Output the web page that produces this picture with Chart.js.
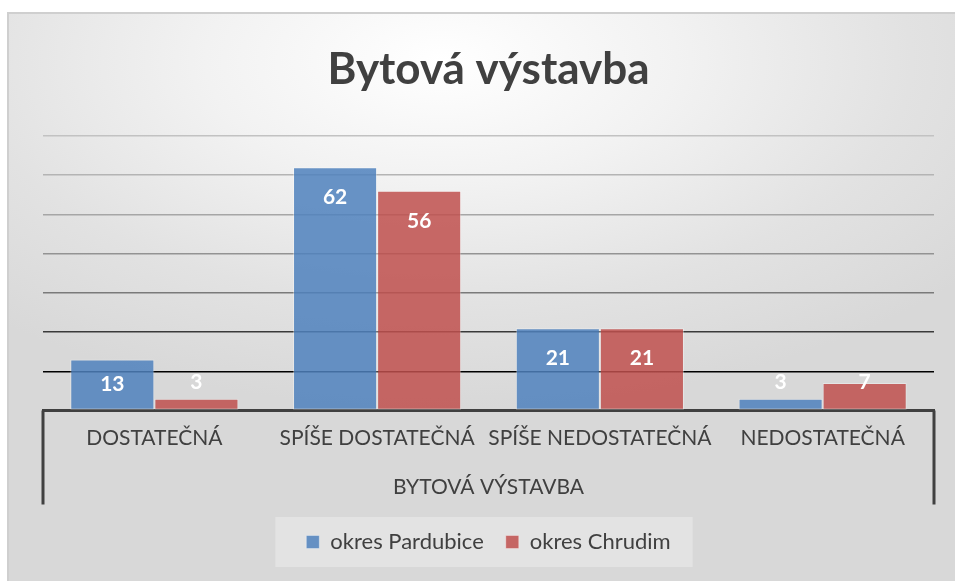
<!DOCTYPE html>
<html>
<head>
<meta charset="utf-8">
<script src="https://cdn.jsdelivr.net/npm/chart.js@4.4.0/dist/chart.umd.min.js"></script>
<style>
    html, body { margin: 0; padding: 0; background: #ffffff; overflow: hidden; }
    .frame {
        position: absolute;
        left: 7px;
        top: 12px;
        width: 960px;
        height: 580px;
        border-left: 2px solid #cfcfcf;
        border-top: 2px solid #cfcfcf;
        background: radial-gradient(ellipse 70% 60% at 45% 8%, #ffffff 0%, #f2f2f2 35%, #e2e2e2 70%, #d8d8d8 100%);
    }
    #chart { position: absolute; left: 0; top: 0; }
</style>
</head>
<body>
<div class="frame"></div>
<canvas id="chart" width="955" height="581"></canvas>
<script>
const categories = ["DOSTATEČNÁ", "SPÍŠE DOSTATEČNÁ", "SPÍŠE NEDOSTATEČNÁ", "NEDOSTATEČNÁ"];
const pardubice = [13, 62, 21, 3];
const chrudim = [3, 56, 21, 7];
const seriesNames = ["okres Pardubice", "okres Chrudim"];
const groupLabel = "BYTOVÁ VÝSTAVBA";
const titleText = "Bytová výstavba";

// gridline shades from 10 up to 70 (darker near the bottom)
const gridShades = ["#000000", "#3a3a3a", "#7a7a7a", "#939393", "#a6a6a6", "#b4b4b4", "#c2c2c2"];

// white value labels on the bars
const valueLabels = {
    id: "valueLabels",
    afterDatasetsDraw(chart) {
        const ctx = chart.ctx;
        ctx.save();
        ctx.font = "bold 21px Lato";
        ctx.fillStyle = "#ffffff";
        ctx.textAlign = "center";
        ctx.textBaseline = "middle";
        chart.data.datasets.forEach((ds, i) => {
            chart.getDatasetMeta(i).data.forEach((bar, j) => {
                const h = bar.base - bar.y;
                let y;
                if (h < 40) {
                    y = bar.base - 28;
                } else {
                    y = Math.min(bar.y + 30, (bar.y + bar.base) / 2);
                }
                ctx.fillText(ds.data[j], bar.x, y);
            });
        });
        ctx.restore();
    }
};

// outer vertical lines of the category axis + legend panel
const decorations = {
    id: "decorations",
    beforeDraw(chart) {
        const legend = chart.legend;
        if (!legend || !legend.legendHitBoxes.length) return;
        const boxes = legend.legendHitBoxes;
        const left = Math.min(...boxes.map(b => b.left)) - 31;
        const right = Math.max(...boxes.map(b => b.left + b.width)) + 22;
        const mid = boxes[0].top + boxes[0].height / 2;
        const ctx = chart.ctx;
        ctx.save();
        ctx.fillStyle = "rgba(255,255,255,0.28)";
        ctx.fillRect(left, mid - 25, right - left, 50);
        ctx.restore();
    },
    afterDraw(chart) {
        const area = chart.chartArea;
        const ctx = chart.ctx;
        ctx.save();
        ctx.strokeStyle = "#404040";
        ctx.lineWidth = 3;
        ctx.beginPath();
        ctx.moveTo(area.left, area.bottom);
        ctx.lineTo(area.left, area.bottom + 94);
        ctx.moveTo(area.right, area.bottom);
        ctx.lineTo(area.right, area.bottom + 94);
        ctx.stroke();
        ctx.restore();
    }
};

new Chart(document.getElementById("chart"), {
    type: "bar",
    data: {
        labels: categories,
        datasets: [
            {
                label: seriesNames[0],
                data: pardubice,
                backgroundColor: "rgba(79,129,189,0.85)",
                borderColor: "rgba(255,255,255,0.35)",
                borderWidth: 1,
                borderSkipped: false
            },
            {
                label: seriesNames[1],
                data: chrudim,
                backgroundColor: "rgba(192,80,77,0.85)",
                borderColor: "rgba(255,255,255,0.35)",
                borderWidth: 1,
                borderSkipped: false
            }
        ]
    },
    options: {
        responsive: false,
        animation: false,
        devicePixelRatio: 1,
        layout: { padding: { left: 43, right: 21, top: 0, bottom: 18 } },
        datasets: {
            bar: { categoryPercentage: 0.755, barPercentage: 1 }
        },
        scales: {
            x: {
                grid: { display: false },
                border: { display: true, color: "#404040", width: 3 },
                ticks: {
                    color: "#404040",
                    font: { family: "Lato", size: 21 },
                    padding: 7,
                    autoSkip: false,
                    maxRotation: 0
                },
                title: {
                    display: true,
                    text: groupLabel,
                    color: "#404040",
                    font: { family: "Lato", size: 21 },
                    padding: { top: 17, bottom: 9 }
                }
            },
            y: {
                min: 0,
                max: 70,
                ticks: { display: false, stepSize: 10 },
                border: { display: false },
                grid: {
                    drawTicks: false,
                    lineWidth: 1.5,
                    color: c => c.tick.value === 0 ? "rgba(0,0,0,0)" : gridShades[c.tick.value / 10 - 1]
                }
            }
        },
        plugins: {
            title: {
                display: true,
                text: titleText,
                color: "#404040",
                font: { family: "Lato", size: 44, weight: "bold" },
                padding: { top: 43, bottom: 40 }
            },
            legend: {
                position: "bottom",
                labels: {
                    color: "#404040",
                    font: { family: "Lato", size: 22 },
                    boxWidth: 13,
                    boxHeight: 13,
                    padding: 22
                }
            },
            tooltip: { enabled: false }
        }
    },
    plugins: [valueLabels, decorations]
});
</script>
</body>
</html>
